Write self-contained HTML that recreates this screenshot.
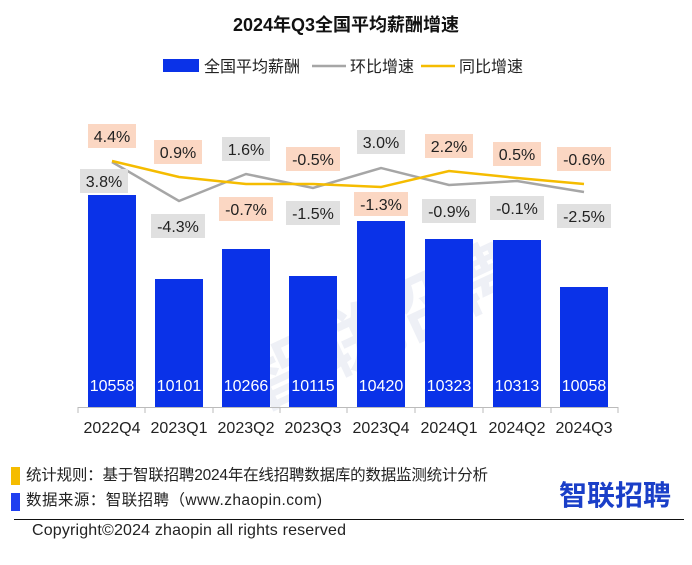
<!DOCTYPE html>
<html><head><meta charset="utf-8"><style>
body{margin:0;width:692px;height:560px;background:#fff;overflow:hidden;font-family:"Liberation Sans","Noto Sans CJK SC",sans-serif}
</style></head><body>
<svg width="692" height="560" xmlns="http://www.w3.org/2000/svg" font-family="Liberation Sans, Noto Sans CJK SC, sans-serif">
<text x="346" y="31" text-anchor="middle" font-size="18" font-weight="bold" fill="#111">2024年Q3全国平均薪酬增速</text>
<rect x="163" y="59" width="36" height="13" fill="#0a32e8"/>
<text x="204" y="72" font-size="16" fill="#222">全国平均薪酬</text>
<line x1="312" y1="66" x2="346" y2="66" stroke="#a6a6a6" stroke-width="2.5"/>
<text x="350" y="72" font-size="16" fill="#222">环比增速</text>
<line x1="421" y1="66" x2="455" y2="66" stroke="#f5bc00" stroke-width="2.5"/>
<text x="459" y="72" font-size="16" fill="#222">同比增速</text>
<text x="230" y="360" font-size="72" fill="#eef0f6" transform="rotate(-25 360 320)" font-weight="bold">智联招聘</text>
<g fill="#0a32e8">
<rect x="88" y="195" width="48" height="212"/>
<rect x="155" y="279" width="48" height="128"/>
<rect x="222" y="249" width="48" height="158"/>
<rect x="289" y="276" width="48" height="131"/>
<rect x="357" y="221" width="48" height="186"/>
<rect x="425" y="239" width="48" height="168"/>
<rect x="493" y="240" width="48" height="167"/>
<rect x="560" y="287" width="48" height="120"/>
</g>
<g fill="#fff" font-size="16" text-anchor="middle">
<text x="112" y="391">10558</text><text x="179" y="391">10101</text><text x="246" y="391">10266</text><text x="313" y="391">10115</text><text x="381" y="391">10420</text><text x="449" y="391">10323</text><text x="517" y="391">10313</text><text x="584" y="391">10058</text>
</g>
<line x1="78" y1="407.5" x2="618" y2="407.5" stroke="#bbb"/>
<g stroke="#bbb">
<line x1="78" y1="407" x2="78" y2="413"/><line x1="145" y1="407" x2="145" y2="413"/><line x1="213" y1="407" x2="213" y2="413"/><line x1="280" y1="407" x2="280" y2="413"/><line x1="347" y1="407" x2="347" y2="413"/><line x1="415" y1="407" x2="415" y2="413"/><line x1="483" y1="407" x2="483" y2="413"/><line x1="551" y1="407" x2="551" y2="413"/><line x1="618" y1="407" x2="618" y2="413"/>
</g>
<g fill="#222" font-size="16" text-anchor="middle">
<text x="112" y="433">2022Q4</text><text x="179" y="433">2023Q1</text><text x="246" y="433">2023Q2</text><text x="313" y="433">2023Q3</text><text x="381" y="433">2023Q4</text><text x="449" y="433">2024Q1</text><text x="517" y="433">2024Q2</text><text x="584" y="433">2024Q3</text>
</g>
<polyline points="112,162 179,201 246,174 313,188 381,168 449,185 517,181 584,192" fill="none" stroke="#a6a6a6" stroke-width="2.5"/>
<polyline points="112,161 179,177 246,184 313,184 381,187 449,171 517,178 584,184" fill="none" stroke="#f5bc00" stroke-width="2.5"/>
<g font-size="16" text-anchor="middle" fill="#222">
<rect x="88" y="124" width="48" height="24" fill="#fbd7c3"/><text x="112" y="142">4.4%</text>
<rect x="80" y="169" width="48" height="24" fill="#e0e0e0"/><text x="104" y="187">3.8%</text>
<rect x="154" y="140" width="48" height="24" fill="#fbd7c3"/><text x="178" y="158">0.9%</text>
<rect x="151" y="214" width="54" height="24" fill="#e0e0e0"/><text x="178" y="232">-4.3%</text>
<rect x="222" y="137" width="48" height="24" fill="#e0e0e0"/><text x="246" y="155">1.6%</text>
<rect x="219" y="197" width="54" height="24" fill="#fbd7c3"/><text x="246" y="215">-0.7%</text>
<rect x="286" y="147" width="54" height="24" fill="#fbd7c3"/><text x="313" y="165">-0.5%</text>
<rect x="286" y="201" width="54" height="24" fill="#e0e0e0"/><text x="313" y="219">-1.5%</text>
<rect x="357" y="130" width="48" height="24" fill="#e0e0e0"/><text x="381" y="148">3.0%</text>
<rect x="354" y="192" width="54" height="24" fill="#fbd7c3"/><text x="381" y="210">-1.3%</text>
<rect x="425" y="134" width="48" height="24" fill="#fbd7c3"/><text x="449" y="152">2.2%</text>
<rect x="422" y="199" width="54" height="24" fill="#e0e0e0"/><text x="449" y="217">-0.9%</text>
<rect x="493" y="142" width="48" height="24" fill="#fbd7c3"/><text x="517" y="160">0.5%</text>
<rect x="490" y="196" width="54" height="24" fill="#e0e0e0"/><text x="517" y="214">-0.1%</text>
<rect x="557" y="147" width="54" height="24" fill="#fbd7c3"/><text x="584" y="165">-0.6%</text>
<rect x="557" y="204" width="54" height="24" fill="#e0e0e0"/><text x="584" y="222">-2.5%</text>
</g>
<rect x="11" y="467" width="9" height="18" fill="#f5bc00"/>
<text x="26" y="480" font-size="15.5" fill="#222" textLength="462">统计规则：基于智联招聘2024年在线招聘数据库的数据监测统计分析</text>
<rect x="11" y="493" width="9" height="18" fill="#1f3ff0"/>
<text x="26" y="505" font-size="15.5" fill="#222" textLength="296">数据来源：智联招聘（www.zhaopin.com)</text>
<text x="559" y="505" font-size="28" font-weight="bold" fill="#1a3fc8" textLength="112">智联招聘</text>
<line x1="14" y1="519.5" x2="684" y2="519.5" stroke="#111"/>
<text x="32" y="535" font-size="16" fill="#222" textLength="314">Copyright©2024 zhaopin all rights reserved</text>
</svg>
</body></html>
